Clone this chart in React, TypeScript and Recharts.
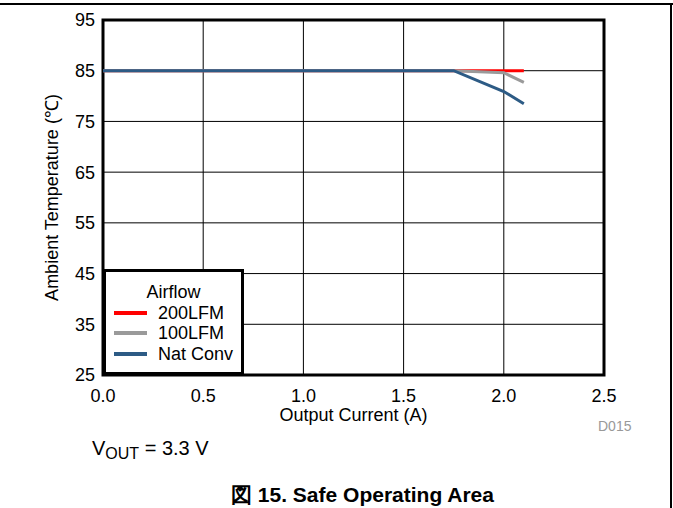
import React from 'react';
import { LineChart, Line, XAxis, YAxis, CartesianGrid, ReferenceArea, Legend } from 'recharts';

const xTicks = [0, 0.5, 1.0, 1.5, 2.0, 2.5];
const yTicks = [25, 35, 45, 55, 65, 75, 85, 95];

const lfm200 = [
  { x: 0, y: 85 },
  { x: 2.1, y: 85 },
];
const lfm100 = [
  { x: 0, y: 85 },
  { x: 1.75, y: 85 },
  { x: 2.0, y: 84.6 },
  { x: 2.1, y: 82.7 },
];
const natConv = [
  { x: 0, y: 85 },
  { x: 1.75, y: 85 },
  { x: 2.0, y: 80.9 },
  { x: 2.1, y: 78.5 },
];

const seriesNames = ['200LFM', '100LFM', 'Nat Conv'];
const seriesColors = ['#ff0000', '#9a9a9a', '#2d5b85'];

const FONT = '"Liberation Sans", Arial, Helvetica, sans-serif';

const LegendBox = () => (
  <div
    style={{
      boxSizing: 'border-box',
      width: 141,
      height: 106,
      border: '3px solid #000',
      background: '#fff',
      fontFamily: FONT,
      fontSize: 18,
      color: '#000',
      paddingTop: 10,
      lineHeight: '20.5px',
    }}
  >
    <div style={{ textAlign: 'center' }}>Airflow</div>
    {seriesNames.map((n, i) => (
      <div key={n} style={{ display: 'flex', alignItems: 'center', height: 20.5 }}>
        <span style={{ display: 'inline-block', marginLeft: 8, width: 33, height: 4, background: seriesColors[i] }} />
        <span style={{ marginLeft: 11 }}>{n}</span>
      </div>
    ))}
  </div>
);

export default function App() {
  return (
    <div style={{ position: 'absolute', left: 0, top: 0, width: 673, height: 508, background: '#fff', fontFamily: FONT }}>
      <LineChart width={673} height={508} margin={{ top: 20, right: 69, bottom: 0, left: 0 }}>
        <CartesianGrid stroke="#000" strokeWidth={1} horizontalValues={yTicks} verticalValues={xTicks} />
        <XAxis
          type="number"
          dataKey="x"
          domain={[0, 2.5]}
          ticks={xTicks}
          tickFormatter={(v: number) => v.toFixed(1)}
          axisLine={false}
          tickLine={false}
          tickSize={0}
          tickMargin={14}
          height={133}
          tick={{ fill: '#000', fontSize: 18, fontFamily: FONT }}
          allowDataOverflow
          label={{ value: 'Output Current (A)', position: 'insideTop', offset: 33, fill: '#000', fontSize: 18, fontFamily: FONT }}
        />
        <YAxis
          type="number"
          dataKey="y"
          domain={[25, 95]}
          ticks={yTicks}
          axisLine={false}
          tickLine={false}
          tickSize={0}
          tickMargin={8}
          width={103}
          tick={{ fill: '#000', fontSize: 18, fontFamily: FONT }}
          allowDataOverflow
          label={{ value: 'Ambient Temperature (℃)', angle: -90, position: 'center', fill: '#000', fontSize: 18, fontFamily: FONT }}
        />
        <Line data={lfm200} dataKey="y" name="200LFM" stroke={seriesColors[0]} strokeWidth={3} dot={false} isAnimationActive={false} />
        <Line data={lfm100} dataKey="y" name="100LFM" stroke={seriesColors[1]} strokeWidth={3} dot={false} isAnimationActive={false} />
        <Line data={natConv} dataKey="y" name="Nat Conv" stroke={seriesColors[2]} strokeWidth={3} dot={false} isAnimationActive={false} />
        <ReferenceArea x1={0} x2={2.5} y1={25} y2={95} fill="none" stroke="#000" strokeWidth={3} ifOverflow="visible" />
        <Legend
          layout="vertical"
          align="center"
          verticalAlign="middle"
          content={() => <LegendBox />}
          wrapperStyle={{ left: 103, top: 269, width: 141, height: 106 }}
        />
      </LineChart>
      <div style={{ position: 'absolute', left: 0, top: 3, width: 673, height: 2, background: '#000' }} />
      <div style={{ position: 'absolute', left: 670, top: 3, width: 2, height: 505, background: '#000' }} />
      <div style={{ position: 'absolute', left: 598, top: 418, fontSize: 14, color: '#999', lineHeight: '16px' }}>D015</div>
      <div style={{ position: 'absolute', left: 92, top: 437, fontSize: 20, color: '#000', lineHeight: '22px', whiteSpace: 'nowrap' }}>
        V<sub style={{ fontSize: 16, verticalAlign: '-4px' }}>OUT</sub> = 3.3 V
      </div>
      <div style={{ position: 'absolute', left: 0, width: 725, top: 484, textAlign: 'center', fontSize: 21, fontWeight: 'bold', color: '#000', lineHeight: '22px', whiteSpace: 'nowrap' }}>
        図 15. Safe Operating Area
      </div>
    </div>
  );
}
